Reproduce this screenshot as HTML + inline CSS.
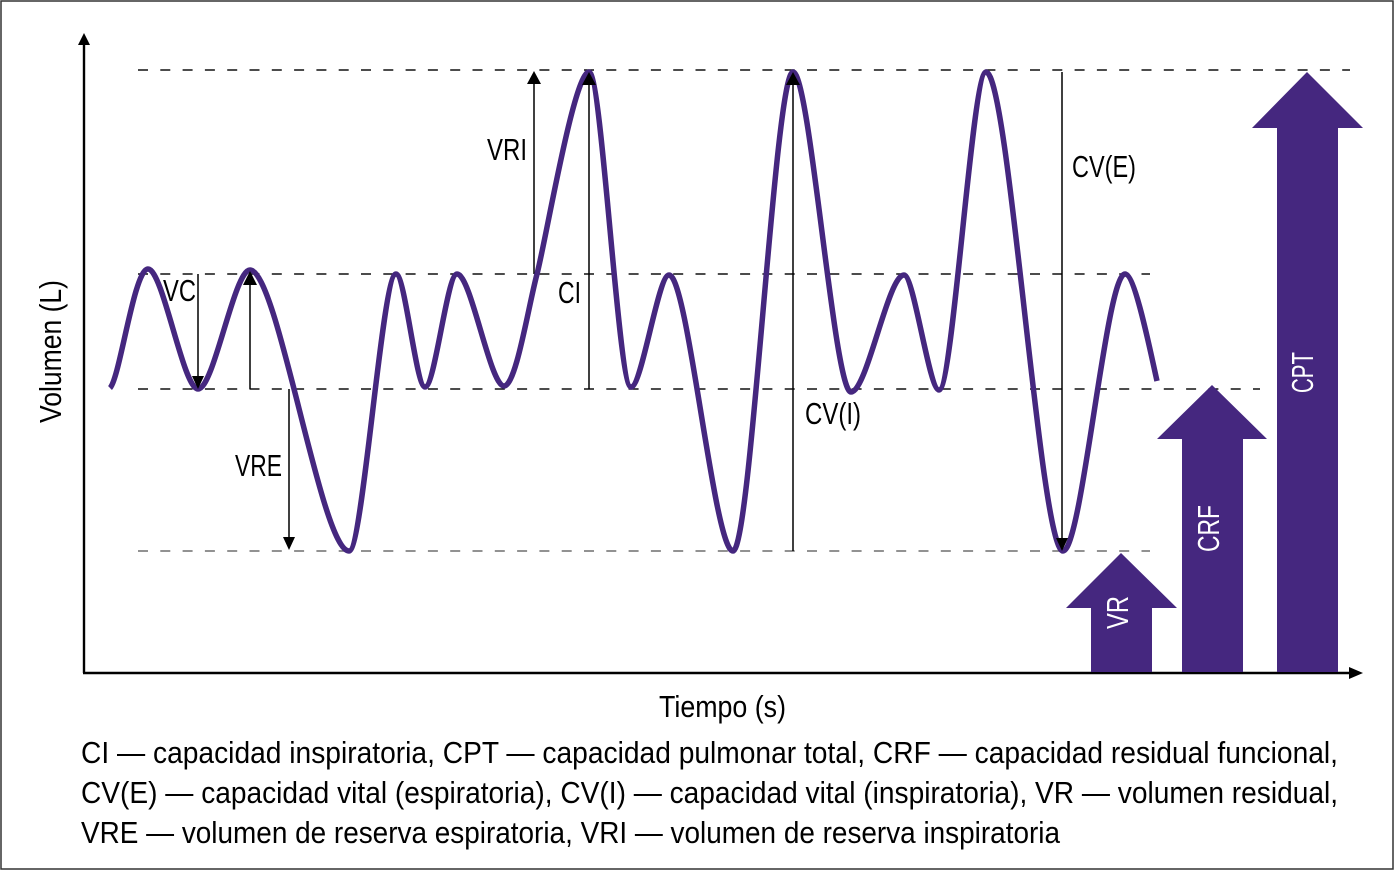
<!DOCTYPE html>
<html>
<head>
<meta charset="utf-8">
<style>
html,body{margin:0;padding:0;background:#fff;}
svg{display:block;}
text{font-family:"Liberation Sans",sans-serif;}
</style>
</head>
<body>
<svg width="1395" height="871" viewBox="0 0 1395 871" xmlns="http://www.w3.org/2000/svg">
<rect x="0" y="0" width="1395" height="871" fill="#fff"/>
<rect x="1" y="1" width="1392" height="868" fill="none" stroke="#333" stroke-width="1.5"/>

<!-- dashed reference lines -->
<g fill="none" stroke-width="1.4" stroke-dasharray="10 12.3">
  <line x1="138" y1="70" x2="1350" y2="70" stroke="#111"/>
  <line x1="138" y1="274" x2="1150" y2="274" stroke="#111"/>
  <line x1="138" y1="389" x2="1260" y2="389" stroke="#111"/>
  <line x1="138" y1="551" x2="1150" y2="551" stroke="#6e6e6e"/>
</g>

<!-- axes -->
<g stroke="#000" stroke-width="2.4" fill="none">
  <line x1="84" y1="673" x2="84" y2="44"/>
  <line x1="83" y1="673" x2="1350" y2="673"/>
</g>
<polygon points="84,33 78,45 90,45" fill="#000"/>
<polygon points="1363,673 1349,667 1349,679" fill="#000"/>

<!-- purple arrows -->
<g fill="#45277f">
  <polygon points="1307,72 1363,128 1338,128 1338,672 1277,672 1277,128 1252,128"/>
  <polygon points="1212,385 1267,439 1243,439 1243,672 1182,672 1182,439 1157,439"/>
  <polygon points="1121,553 1177,608 1152,608 1152,672 1091,672 1091,608 1066,608"/>
</g>
<g fill="#fff" font-size="31">
  <text transform="translate(1313,393) rotate(-90)" textLength="41" lengthAdjust="spacingAndGlyphs">CPT</text>
  <text transform="translate(1219,552) rotate(-90)" textLength="47" lengthAdjust="spacingAndGlyphs">CRF</text>
  <text transform="translate(1128,629) rotate(-90)" textLength="33" lengthAdjust="spacingAndGlyphs">VR</text>
</g>

<!-- annotation lines -->
<g stroke="#000" stroke-width="1.5" fill="none">
  <line x1="198" y1="274" x2="198" y2="378"/>
  <line x1="250" y1="389" x2="250" y2="282"/>
  <line x1="289" y1="389" x2="289" y2="540"/>
  <line x1="534" y1="274" x2="534" y2="82"/>
  <line x1="589" y1="389" x2="589" y2="82"/>
  <line x1="793" y1="551" x2="793" y2="82"/>
  <line x1="1062" y1="72" x2="1062" y2="540"/>
</g>

<!-- breathing curve -->
<path fill="none" stroke="#45277f" stroke-width="5.5" stroke-linecap="butt" stroke-linejoin="round"
d="M110,388 C120,378 134,269 148,269
C163,269 183,389 198,389
C214,389 234,270 250,270
C278,270 321,551 349,551
C363,551 382,274 396,274
C405,274 416,387 425,387
C435,387 447,274 457,274
C471,274 490,386 504,386
C516,386 528,308 537,274
C546,240 574,72 589,72
C602,72 618,387 631,387
C642,387 658,275 669,275
C688,275 714,551 733,551
C751,551 775,72 793,72
C810,72 834,392 851,392
C867,392 888,275 904,275
C914,275 929,390 939,390
C953,390 972,72 986,72
C1009,72 1040,551 1063,551
C1082,551 1106,274 1125,274
C1135,274 1150,350 1157,381"/>

<!-- arrowheads -->
<g fill="#000">
  <polygon points="198,389 192,376 204,376"/>
  <polygon points="250,271 243,285 257,285"/>
  <polygon points="289,550 283,537 295,537"/>
  <polygon points="534,71 527,84 541,84"/>
  <polygon points="589,72 582,85 596,85"/>
  <polygon points="793,72 786,85 800,85"/>
  <polygon points="1062,551 1056,538 1068,538"/>
</g>

<!-- labels -->
<g fill="#000" font-size="31">
  <text x="163" y="301" textLength="33" lengthAdjust="spacingAndGlyphs">VC</text>
  <text x="235" y="476" textLength="47" lengthAdjust="spacingAndGlyphs">VRE</text>
  <text x="487" y="160" textLength="40" lengthAdjust="spacingAndGlyphs">VRI</text>
  <text x="558" y="303" textLength="23" lengthAdjust="spacingAndGlyphs">CI</text>
  <text x="805" y="424" textLength="56" lengthAdjust="spacingAndGlyphs">CV(I)</text>
  <text x="1072" y="177" textLength="64" lengthAdjust="spacingAndGlyphs">CV(E)</text>
  <text x="659" y="717" textLength="127" lengthAdjust="spacingAndGlyphs">Tiempo (s)</text>
  <text transform="translate(61,423) rotate(-90)" textLength="143" lengthAdjust="spacingAndGlyphs">Volumen (L)</text>
</g>

<!-- caption -->
<g fill="#000" font-size="31">
  <text x="81" y="763" textLength="1257" lengthAdjust="spacingAndGlyphs">CI — capacidad inspiratoria, CPT — capacidad pulmonar total, CRF — capacidad residual funcional,</text>
  <text x="81" y="803" textLength="1257" lengthAdjust="spacingAndGlyphs">CV(E) — capacidad vital (espiratoria), CV(I) — capacidad vital (inspiratoria), VR — volumen residual,</text>
  <text x="81" y="843" textLength="979" lengthAdjust="spacingAndGlyphs">VRE — volumen de reserva espiratoria, VRI — volumen de reserva inspiratoria</text>
</g>
</svg>
</body>
</html>
